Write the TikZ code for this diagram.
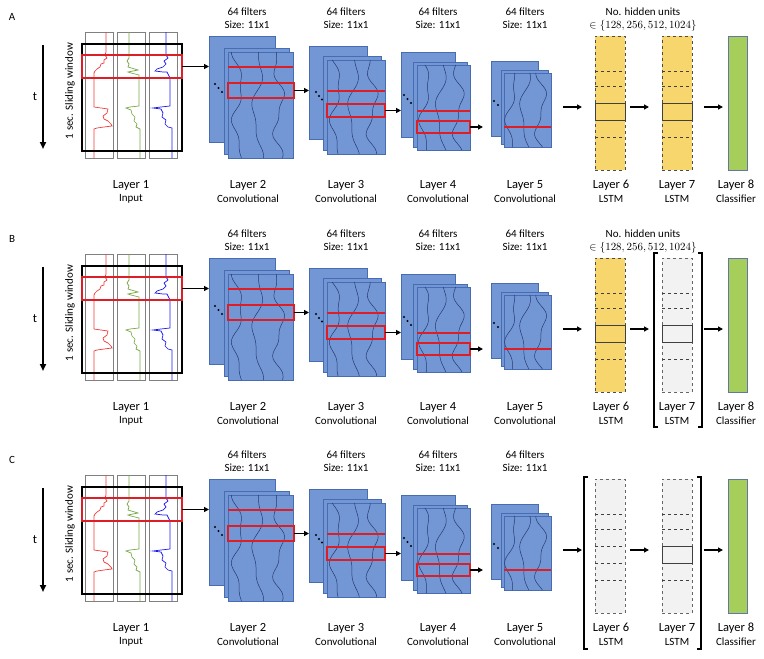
\documentclass[tikz,border=0pt]{standalone}
\usepackage{fontspec}
\setmainfont{Carlito}
\usetikzlibrary{arrows.meta,positioning}

\definecolor{convfill}{RGB}{114,151,212}
\definecolor{convline}{RGB}{72,108,178}
\definecolor{wavecol}{RGB}{40,56,110}
\definecolor{winred}{RGB}{222,30,38}
\definecolor{sigr}{RGB}{240,60,60}
\definecolor{sigg}{RGB}{120,168,70}
\definecolor{sigb}{RGB}{25,25,240}
\definecolor{lstmyel}{RGB}{248,214,110}
\definecolor{lstmgry}{RGB}{242,242,242}
\definecolor{clffill}{RGB}{166,206,90}
\definecolor{clfline}{RGB}{100,118,168}

\tikzset{
  base/.style={inner sep=0pt, outer sep=0pt},
  convbox/.style={base, draw=convline, fill=convfill, line width=0.6pt},
  chan/.style={base, draw=black!50, line width=0.9pt},
  window/.style={base, draw=black, line width=1.4pt},
  redwin/.style={base, draw=winred, line width=1.4pt},
  lstmy/.style={base, draw=black!70, dashed, fill=lstmyel, line width=0.7pt},
  lstmg/.style={base, draw=black!60, dashed, fill=lstmgry, line width=0.7pt},
  clf/.style={base, draw=clfline, fill=clffill, line width=0.9pt},
  celldash/.style={draw=black!75, dashed, line width=0.7pt},
  cellsolid/.style={draw=black!75, line width=0.8pt},
  wave/.style={draw=wavecol, line width=0.5pt},
  arr/.style={line width=1.4pt, -{Triangle[length=5pt,width=5pt]}},
  timearrow/.style={line width=1.8pt, -{Triangle[length=7pt,width=6pt]}},
  brk/.style={draw=black, line width=1.1pt},
  lbl/.style={font=\fontsize{12.5}{14}\selectfont},
  sub/.style={font=\fontsize{11}{13}\selectfont},
  tag/.style={font=\fontsize{11}{13}\selectfont}
}

% box node from corner coordinates (pixel units)
\newcommand{\pbox}[6]{\node[#1, minimum width={(#4-#2)*1pt}, minimum height={(#5-#3)*1pt}] (#6) at ({(#2+#4)/2},{(#3+#5)/2}) {};}

% three wavy feature curves inside a front map
\newcommand{\waves}[4]{%
  \foreach \f/\ph/\k in {0.15/20/5, 0.45/150/4.3, 0.78/260/5.6}{
    \draw[wave] plot[smooth, domain=#3:#4, samples=40]
      ({#1+\f*(#2-#1)+4.5*sin(\k*\x+\ph)+2*sin(2.2*\k*\x+40)}, \x);
  }}

\begin{document}
\begin{tikzpicture}[x=1pt, y=-1pt]
\useasboundingbox (0,0) rectangle (764,659);

\foreach \p/\dy/\six/\sev in {A/0/y/y, B/222/y/g, C/443/g/g}{
\begin{scope}[shift={(0,\dy)}]

% panel letter and time axis
\node[tag] (tag\p) at (12,17) {\p};
\coordinate (t0\p) at (43,45);
\coordinate (t1\p) at (43,149);
\draw[timearrow] (t0\p) -- (t1\p);
\node[lbl] (t\p) at (35,97) {t};
\node[sub, rotate=90] (sw\p) at (70,91) {1 sec. Sliding window};

% layer 1: input channels
\pbox{chan}{85}{32}{113}{158}{ch1\p}
\pbox{chan}{117}{32}{145}{158}{ch2\p}
\pbox{chan}{149}{32}{177}{158}{ch3\p}
\draw[sigr, line width=0.7pt] plot coordinates {(106,32) (106,52) (105,55) (107,58) (104,60) (104,63) (101,64) (100,67) (97,69) (95,71) (94,73) (94,107) (101,108) (108,109) (107,113) (103,116) (104,119) (108,121) (111,124) (112,126) (104,127) (97,128) (94,129) (94,158)};
\draw[sigg, line width=0.7pt] plot coordinates {(129,32) (129,58) (127,61) (129,64) (128,67) (138,70) (128,72) (131,73) (139,75) (139,106) (130,107) (126,108) (131,110) (132,114) (135,117) (134,121) (137,124) (136,127) (140,129) (140,158)};
\draw[sigb, line width=0.7pt] plot coordinates {(166,32) (166,55) (168,58) (164,61) (166,64) (163,67) (157,69) (155,71) (163,72) (167,72) (169,76) (170,78) (170,106) (161,107) (153,108) (161,109) (163,113) (162,117) (166,120) (165,124) (168,127) (172,128) (172,158)};
\pbox{window}{82}{44}{182}{151}{win\p}
\pbox{redwin}{82}{55}{182}{78}{red1\p}

% layer 2
\pbox{convbox}{209}{36}{275}{142}{c2b\p}
\fill (215,84) circle (1.2) (218.5,88) circle (1.2) (222,92) circle (1.2);
\pbox{convbox}{224}{48}{289}{154}{c2m\p}
\pbox{convbox}{228}{52}{293}{158}{c2f\p}
\waves{228}{293}{52}{158}
\draw[winred, line width=1.3pt] (228,67) -- (293,67);
\pbox{redwin}{228}{83}{294}{98}{red2\p}

% layer 3
\pbox{convbox}{309}{46}{367}{139}{c3b\p}
\fill (316,92) circle (1.2) (319,96) circle (1.2) (322,99.5) circle (1.2);
\pbox{convbox}{323}{56}{381}{150}{c3m\p}
\pbox{convbox}{327}{60}{385}{154}{c3f\p}
\waves{327}{385}{60}{154}
\draw[winred, line width=1.3pt] (327,91) -- (385,91);
\pbox{redwin}{327}{104}{385}{117}{red3\p}

% layer 4
\pbox{convbox}{401}{52}{455}{137}{c4b\p}
\fill (404,95) circle (1.2) (407.5,99) circle (1.2) (411,103) circle (1.2);
\pbox{convbox}{413}{62}{467}{147}{c4m\p}
\pbox{convbox}{417}{65}{470}{150}{c4f\p}
\waves{417}{470}{65}{150}
\draw[winred, line width=1.3pt] (417,111) -- (470,111);
\pbox{redwin}{417}{121}{470}{133}{red4\p}

% layer 5
\pbox{convbox}{491}{61}{538}{136}{c5b\p}
\fill (494,101) circle (1.2) (498,105) circle (1.2) (502,109) circle (1.2);
\pbox{convbox}{501}{70}{548}{144}{c5m\p}
\pbox{convbox}{504}{73}{551}{147}{c5f\p}
\waves{504}{551}{73}{147}
\draw[winred, line width=1.3pt] (504,127) -- (551,127);

% layers 6-8
\pbox{lstm\six}{595}{36}{625}{170}{l6\p}
\draw[celldash] (595,71) -- (625,71) (595,86) -- (625,86) (595,103) -- (625,103)
  (595,120) -- (625,120) (595,137) -- (625,137);
\if y\six \draw[cellsolid] (595,103) rectangle (625,120); \fi
\pbox{lstm\sev}{662}{36}{692}{170}{l7\p}
\draw[celldash] (662,71) -- (692,71) (662,86) -- (692,86) (662,137) -- (692,137);
\draw[cellsolid] (662,103) rectangle (692,120);
\pbox{clf}{728}{36}{747}{170}{l8\p}

% brackets round the grey LSTM layers
\if g\sev \if y\six
  \draw[brk] (658,31) -- (654,31) -- (654,205) -- (658,205);
  \draw[brk] (698,31) -- (702,31) -- (702,205) -- (698,205);
\fi \fi
\if g\six
  \draw[brk] (588,34) -- (584,34) -- (584,206) -- (588,206);
  \draw[brk] (697,34) -- (701,34) -- (701,206) -- (697,206);
\fi

% connectors
\coordinate (mid\p) at (0,107);
\draw[arr] (red1\p.east) -- (red1\p.east -| c2b\p.west);
\draw[arr] (red2\p.east) -- (red2\p.east -| c3b\p.west);
\draw[arr] (red3\p.east) -- (red3\p.east -| c4b\p.west);
\draw[arr, shorten >=8pt] (red4\p.east) -- (red4\p.east -| c5b\p.west);
\draw[arr, shorten <=12pt, shorten >=13pt] (c5f\p.east |- mid\p) -- (l6\p.west |- mid\p);
\draw[arr, shorten <=5pt, shorten >=13pt] (l6\p.east |- mid\p) -- (l7\p.west |- mid\p);
\draw[arr, shorten <=12pt, shorten >=5pt] (l7\p.east |- mid\p) -- (l8\p.west |- mid\p);

% texts
\foreach \n/\xx in {2/247,3/346,4/438,5/525}{
  \node[sub] (f\n\p) at (\xx,12) {64 filters};
  \node[sub] (s\n\p) at (\xx,25) {Size: 11x1};
}
\if y\six
  \node[sub] (hu\p) at (643,12) {No. hidden units};
  \node[sub] (hs\p) at (643,26) {$\in \{128, 256, 512, 1024\}$};
\fi
\foreach \n/\xx/\kind in {1/131/Input, 2/248/Convolutional, 3/346/Convolutional,
    4/438/Convolutional, 5/525/Convolutional, 6/611/LSTM, 7/677/LSTM, 8/736/Classifier}{
  \node[lbl] (ln\n\p) at (\xx,185) {Layer \n};
  \node[sub] (lk\n\p) at (\xx,199) {\kind};
}
\end{scope}
}
\end{tikzpicture}
\end{document}
